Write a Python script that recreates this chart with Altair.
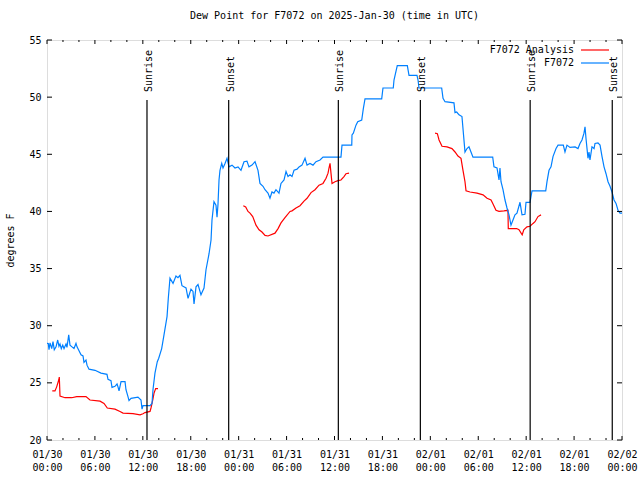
import altair as alt
import pandas as pd

# ---------------- data (hours after 2025-01-30 00:00 UTC, degrees F) ----------------
blue_hours = [0.00, 0.16, 0.25, 0.38, 0.59, 0.75, 0.91, 1.13, 1.34, 1.50, 1.63, 1.79, 1.97, 2.13,
              2.38, 2.50, 2.72, 2.88, 3.13, 3.38, 3.63, 3.76, 4.01, 4.26, 4.51, 4.63, 4.88, 5.01,
              5.26, 6.01, 6.76, 7.51, 7.64, 8.01, 8.14, 8.51, 8.77, 8.89, 9.02, 9.27, 9.77, 9.89,
              10.14, 10.27, 10.52, 11.39, 11.77, 11.90, 12.02, 12.90, 13.15, 13.27, 13.52, 13.81,
              13.99, 14.36, 14.65, 15.03, 15.19, 15.40, 15.78, 16.15, 16.40, 16.65, 16.90, 17.41,
              17.66, 18.03, 18.28, 18.41, 18.66, 18.91, 19.28, 19.66, 19.91, 20.29, 20.54, 20.66,
              20.91, 21.16, 21.29, 21.41, 21.54, 21.66, 21.88, 22.04, 22.29, 22.54, 22.79, 23.17,
              23.54, 23.92, 24.29, 24.67, 25.04, 25.29, 25.67, 26.05, 26.42, 26.67, 27.05, 27.30,
              27.67, 27.92, 28.17, 28.42, 28.67, 29.05, 29.30, 29.68, 29.93, 30.18, 30.43, 30.68,
              30.93, 31.31, 31.56, 31.93, 32.31, 32.56, 32.93, 33.31, 33.68, 34.19, 34.56, 36.81,
              36.94, 38.16, 38.19, 38.36, 38.69, 38.91, 39.41, 39.61, 39.82, 41.91, 42.07, 43.36,
              43.45, 43.86, 45.12, 45.33, 46.33, 46.46, 46.58, 49.42, 49.59, 49.84, 50.96, 51.09,
              51.30, 51.59, 51.96, 52.34, 52.59, 52.84, 53.09, 53.34, 55.81, 55.97, 56.35, 56.60,
              56.72, 56.85, 57.10, 57.35, 57.60, 57.85, 58.10, 58.35, 58.60, 58.85, 59.23, 59.48,
              59.85, 59.98, 60.48, 60.73, 62.45, 62.61, 62.86, 63.11, 63.36, 63.74, 63.99, 64.65,
              64.86, 65.11, 65.49, 66.12, 66.49, 66.74, 66.99, 67.24, 67.37, 67.49, 67.62, 67.74,
              67.87, 67.99, 68.24, 68.50, 68.62, 68.99, 69.25, 69.50, 69.75, 70.00, 70.25, 70.50,
              70.75, 71.00, 71.25, 71.50, 71.75, 72.00]
blue_vals = [28.46, 28.45, 27.9, 28.5, 28.0, 28.6, 27.9, 28.15, 28.75, 28.2, 28.4, 28.0, 28.3, 28.0,
             28.4, 28.1, 29.2, 28.3, 28.15, 28.0, 28.45, 28.15, 27.8, 27.45, 27.35, 26.8, 27.0, 26.55,
             26.2, 26.1, 25.85, 25.75, 25.3, 25.2, 24.6, 24.7, 24.9, 24.65, 24.3, 25.1, 25.1, 24.4,
             23.8, 23.45, 23.65, 23.75, 23.5, 22.7, 23.0, 23.0, 23.2, 24.4, 25.85, 26.85,
             27.15, 28.0, 29.2, 30.8, 32.4, 34.15, 33.7, 34.35, 34.2, 34.4, 33.5, 33.3,
             32.4, 33.2, 33.0, 31.9, 33.4, 33.6, 32.7, 33.3, 34.9, 36.3, 37.5, 39.25,
             40.85, 40.55, 39.5, 40.6, 42.75, 43.6, 44.2, 43.8, 44.2, 44.65, 43.9, 44.05,
             43.8, 43.9, 43.6, 44.35, 44.4, 43.9, 44.05, 44.35, 43.6, 42.45, 42.2, 41.9,
             41.6, 41.15, 41.7, 41.6, 41.9, 41.6, 42.45, 42.75, 43.5, 43.05, 43.2, 43.05,
             43.6, 43.7, 43.9, 44.05, 44.65, 44.05, 44.2, 44.05, 44.35, 44.5, 44.75, 44.75,
             45.8, 45.8, 46.7, 46.85, 47.55, 47.85, 48.0, 49.0, 49.85, 49.85, 50.8, 50.8,
             51.5, 52.75, 52.75, 51.9, 51.9, 51.5, 50.8, 50.8, 49.9, 49.6, 49.5, 48.65,
             48.7, 48.45, 48.3, 45.2, 45.5, 45.65, 45.2, 44.75, 44.75, 43.9, 43.8, 42.75,
             43.8, 42.6, 41.9, 41.0, 40.3, 39.7, 38.8, 39.25, 39.7, 39.85, 40.8, 39.7,
             39.75, 40.8, 40.8, 41.8, 41.8, 42.6, 43.6, 43.9, 44.8, 45.5, 45.8, 45.8,
             45.2, 45.8, 45.6, 45.65, 45.5, 45.95, 46.25, 46.85, 47.4, 46.4, 45.5, 44.65,
             45.2, 44.5, 45.65, 45.5, 45.95, 46.0, 45.8, 44.8, 43.9, 43.3, 42.6, 42.2,
             41.7, 41.0, 40.7, 40.1, 39.85, 39.85]

red1_hours = [0.66, 1.00, 1.21, 1.47, 1.54, 1.63, 2.25, 3.09, 3.72, 4.88, 5.38, 6.64, 7.14, 7.55,
              8.51, 9.14, 9.52, 10.77, 11.65, 12.02, 12.27, 12.90, 13.02, 13.27, 13.40, 13.61, 13.90]
red1_vals = [24.3, 24.3, 24.65, 25.25, 25.5, 23.85, 23.7, 23.7, 23.8, 23.8, 23.5, 23.4, 23.2, 22.8,
             22.7, 22.5, 22.35, 22.3, 22.2, 22.3, 22.4, 22.5, 22.8, 23.6, 24.1, 24.5, 24.5]
red2_hours = [24.58, 24.88, 25.17, 25.42, 25.76, 26.17, 26.55, 26.92, 27.30, 27.67, 28.55, 28.93,
              29.30, 29.80, 30.43, 30.68, 31.18, 31.68, 32.18, 32.56, 33.06, 33.56, 34.06, 34.56,
              34.94, 35.19, 35.31, 35.44, 35.56, 35.69, 36.06, 36.44, 36.81, 37.19, 37.44, 37.82]
red2_vals = [40.5, 40.4, 40.0, 39.85, 39.55, 38.8, 38.4, 38.2, 37.9, 37.85, 38.1, 38.5,
             39.0, 39.45, 40.0, 40.05, 40.3, 40.5, 40.9, 41.15, 41.65, 41.9, 42.3, 42.45,
             42.9, 43.35, 43.8, 44.2, 43.35, 42.45, 42.6, 42.7, 42.75, 43.05, 43.3, 43.35]
red3_hours = [48.59, 48.88, 49.09, 49.46, 50.09, 50.71, 51.09, 51.46, 51.84, 52.09, 52.34, 52.47,
              52.97, 53.85, 54.60, 55.10, 55.60, 55.85, 56.22, 56.60, 57.22, 57.72, 57.76, 58.81,
              59.10, 59.50, 59.70, 60.10, 60.48, 60.86, 61.11, 61.48, 61.86]
red3_vals = [46.85, 46.8, 46.25, 45.7, 45.65, 45.5, 45.2, 44.85, 44.65, 43.6, 42.6, 41.8,
             41.7, 41.6, 41.45, 41.15, 41.0, 40.65, 40.1, 40.0, 40.05, 40.1, 38.5, 38.5,
             38.4, 37.95, 38.4, 38.65, 38.7, 38.95, 39.1, 39.55, 39.7]

event_hours = [12.52, 22.75, 36.48, 46.75, 60.50, 70.78]
event_labels = ["Sunrise", "Sunset", "Sunrise", "Sunset", "Sunrise", "Sunset"]

series_names = ["F7072 Analysis", "F7072"]
series_colors = ["#ff0000", "#0080ff"]
y_ticks = [20, 25, 30, 35, 40, 45, 50, 55]
title_text = "Dew Point for F7072 on 2025-Jan-30 (time in UTC)"

# ---------------- build tables ----------------
BASE = pd.Timestamp("2025-01-30T00:00:00Z").value // 10**6  # ms
HOUR = 3600 * 1000


def ms(h):
    return BASE + h * HOUR


rows = []
for h, v in zip(red1_hours, red1_vals):
    rows.append({"t": ms(h), "v": v, "series": series_names[0], "seg": "a1"})
for h, v in zip(red2_hours, red2_vals):
    rows.append({"t": ms(h), "v": v, "series": series_names[0], "seg": "a2"})
for h, v in zip(red3_hours, red3_vals):
    rows.append({"t": ms(h), "v": v, "series": series_names[0], "seg": "a3"})
for h, v in zip(blue_hours, blue_vals):
    rows.append({"t": ms(h), "v": v, "series": series_names[1], "seg": "b"})
df = pd.DataFrame(rows)

ev = pd.DataFrame({"t": [ms(h) for h in event_hours], "label": event_labels,
                   "v": 20, "v1": 49.75})

major_h = list(range(0, 73, 6))
minor_h = [h for h in range(0, 73, 2) if h % 6 != 0]
major_df = pd.DataFrame({"t": [ms(h) for h in major_h]})
minor_df = pd.DataFrame({"t": [ms(h) for h in minor_h]})
ytick_df = pd.DataFrame({"v": y_ticks})

FONT = "DejaVu Sans Mono"
W, H = 575, 400


def dt(h):
    d = pd.Timestamp("2025-01-30T00:00:00Z") + pd.Timedelta(hours=h)
    return alt.DateTime(year=d.year, month=d.month, date=d.day, hours=d.hour, utc=True)


xscale = alt.Scale(type="utc", domain=[dt(0), dt(72)])
yscale = alt.Scale(domain=[20, 55], nice=False, zero=False)

x_axis = alt.Axis(
    values=[dt(h) for h in major_h],
    labelExpr="[utcFormat(datum.value, '%m/%d'), utcFormat(datum.value, '%H:%M')]",
    tickSize=0, ticks=False, domain=False, grid=False, labelPadding=9,
    labelLineHeight=13, labelFont=FONT, labelFontSize=10, labelColor="black",
    labelOverlap=False, labelFlush=False, labelAlign="center", labelBound=False,
    title=None, labelAngle=0, labelBaseline="top",
)
y_axis = alt.Axis(
    values=y_ticks, tickSize=0, ticks=False, domain=False, grid=False, labelPadding=6,
    labelFont=FONT, labelFontSize=10, labelColor="black", labelFlush=False,
    title="degrees F",
    titleFont=FONT, titleFontSize=10, titleFontWeight="normal", titleColor="black",
    titleAngle=-90, titleX=-37, titleY=200, titleAlign="center", titleBaseline="middle",
)

X = alt.X("t:T", scale=xscale, axis=x_axis)

lines = alt.Chart(df).mark_line(strokeWidth=1.2, interpolate="linear").encode(
    x=X,
    y=alt.Y("v:Q", scale=yscale, axis=y_axis),
    color=alt.Color("series:N", scale=alt.Scale(domain=series_names, range=series_colors),
                    legend=None),
    detail="seg:N",
    order=alt.Order("t:Q"),
)

ev_rules = alt.Chart(ev).mark_rule(color="black", strokeWidth=1.2).encode(
    x=X,
    y=alt.Y("v:Q", scale=yscale, axis=y_axis),
    y2="v1:Q",
)
ev_text = alt.Chart(ev).mark_text(
    angle=270, align="left", baseline="middle", dx=8, dy=2,
    font=FONT, fontSize=10, color="black",
).encode(
    x=X,
    y=alt.Y("v1:Q", scale=yscale, axis=y_axis),
    text="label:N",
)


# inward ticks (gnuplot style, mirrored on all four sides)
def xticks(data, length):
    bottom = alt.Chart(data).mark_rule(color="black").encode(
        x=X, y=alt.value(H), y2=alt.value(H - length))
    top = alt.Chart(data).mark_rule(color="black").encode(
        x=X, y=alt.value(0), y2=alt.value(length))
    return bottom + top


yt_left = alt.Chart(ytick_df).mark_rule(color="black").encode(
    y=alt.Y("v:Q", scale=yscale, axis=y_axis), x=alt.value(0), x2=alt.value(5))
yt_right = alt.Chart(ytick_df).mark_rule(color="black").encode(
    y=alt.Y("v:Q", scale=yscale, axis=y_axis), x=alt.value(W), x2=alt.value(W - 5))

# legend (label right-aligned, line sample to the right)
leg_df = pd.DataFrame({"name": series_names, "row": list(range(len(series_names)))})
leg_layers = []
for i, name in enumerate(series_names):
    sub = leg_df[leg_df["row"] == i]
    yy = 10 + i * 13
    leg_layers.append(alt.Chart(sub).mark_text(
        align="right", baseline="middle", font=FONT, fontSize=10, color="black").encode(
        text="name:N", x=alt.value(527), y=alt.value(yy)))
    leg_layers.append(alt.Chart(sub).mark_rule(color=series_colors[i], strokeWidth=1.2).encode(
        x=alt.value(534), x2=alt.value(562), y=alt.value(yy)))

chart = alt.layer(
    lines, ev_rules, ev_text, xticks(major_df, 4), xticks(minor_df, 2), yt_left, yt_right,
    *leg_layers,
).properties(
    width=W, height=H,
    title=alt.TitleParams(title_text, font=FONT, fontSize=10, fontWeight="normal",
                          color="black", anchor="middle", offset=14),
    autosize=alt.AutoSizeParams(type="none"),
    padding={"left": 47, "top": 40, "right": 18, "bottom": 40},
).configure_view(
    stroke="black", strokeWidth=1,
).configure(background="white")

chart.save("out.html", embed_options={"renderer": "svg", "actions": False})
